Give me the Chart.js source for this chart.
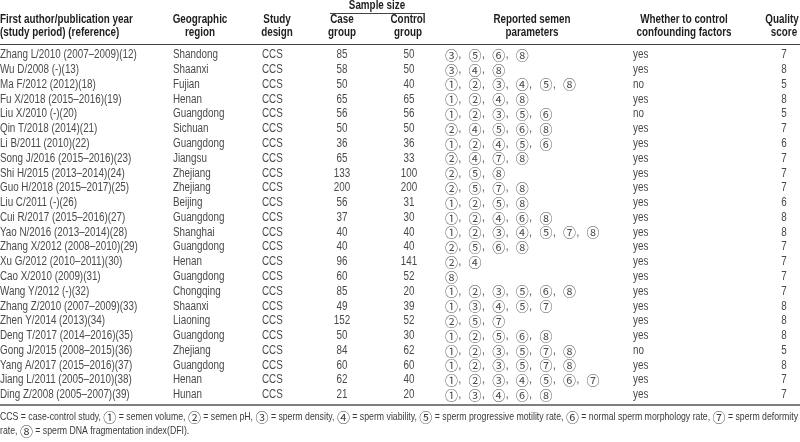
<!DOCTYPE html>
<html>
<head>
<meta charset="utf-8">
<script src="https://cdn.jsdelivr.net/npm/chart.js@4.4.0/dist/chart.umd.min.js"></script>
<style>
  html, body { margin: 0; padding: 0; background: #fff; }
  #wrap { width: 800px; height: 442px; }
</style>
</head>
<body>
<div id="wrap"><canvas id="chart" width="800" height="442"></canvas></div>
<script>
// Table data
const authors = [
    'Zhang L/2010 (2007–2009)(12)', 'Wu D/2008 (-)(13)', 'Ma F/2012 (2012)(18)',
    'Fu X/2018 (2015–2016)(19)', 'Liu X/2010 (-)(20)', 'Qin T/2018 (2014)(21)',
    'Li B/2011 (2010)(22)', 'Song J/2016 (2015–2016)(23)', 'Shi H/2015 (2013–2014)(24)',
    'Guo H/2018 (2015–2017)(25)', 'Liu C/2011 (-)(26)', 'Cui R/2017 (2015–2016)(27)',
    'Yao N/2016 (2013–2014)(28)', 'Zhang X/2012 (2008–2010)(29)', 'Xu G/2012 (2010–2011)(30)',
    'Cao X/2010 (2009)(31)', 'Wang Y/2012 (-)(32)', 'Zhang Z/2010 (2007–2009)(33)',
    'Zhen Y/2014 (2013)(34)', 'Deng T/2017 (2014–2016)(35)', 'Gong J/2015 (2008–2015)(36)',
    'Yang A/2017 (2015–2016)(37)', 'Jiang L/2011 (2005–2010)(38)', 'Ding Z/2008 (2005–2007)(39)'
];
const regions = [
    'Shandong', 'Shaanxi', 'Fujian', 'Henan', 'Guangdong', 'Sichuan', 'Guangdong', 'Jiangsu',
    'Zhejiang', 'Zhejiang', 'Beijing', 'Guangdong', 'Shanghai', 'Guangdong', 'Henan', 'Guangdong',
    'Chongqing', 'Shaanxi', 'Liaoning', 'Guangdong', 'Zhejiang', 'Guangdong', 'Henan', 'Hunan'
];
const designs = authors.map(() => 'CCS');
const caseGroup = [85, 58, 50, 65, 56, 50, 36, 65, 133, 200, 56, 37, 40, 40, 96, 60, 85, 49, 152, 50, 84, 60, 62, 21];
const controlGroup = [50, 50, 40, 65, 56, 50, 36, 33, 100, 200, 31, 30, 40, 40, 141, 52, 20, 39, 52, 30, 62, 60, 40, 20];
const parameters = [
    [3, 5, 6, 8], [3, 4, 8], [1, 2, 3, 4, 5, 8], [1, 2, 4, 8], [1, 2, 3, 5, 6], [2, 4, 5, 6, 8],
    [1, 2, 4, 5, 6], [2, 4, 7, 8], [2, 5, 8], [2, 5, 7, 8], [1, 2, 5, 8], [1, 2, 4, 6, 8],
    [1, 2, 3, 4, 5, 7, 8], [2, 5, 6, 8], [2, 4], [8], [1, 2, 3, 5, 6, 8], [1, 3, 4, 5, 7],
    [2, 5, 7], [1, 2, 5, 6, 8], [1, 2, 3, 5, 7, 8], [1, 2, 3, 5, 7, 8], [1, 2, 3, 4, 5, 6, 7], [1, 3, 4, 6, 8]
];
const confounding = [
    'yes', 'yes', 'no', 'yes', 'no', 'yes', 'yes', 'yes', 'yes', 'yes', 'yes', 'yes',
    'yes', 'yes', 'yes', 'yes', 'yes', 'yes', 'yes', 'yes', 'no', 'yes', 'yes', 'yes'
];
const qualityScore = [7, 8, 5, 8, 5, 7, 6, 7, 7, 7, 6, 8, 8, 7, 7, 7, 7, 8, 8, 8, 5, 8, 7, 7];

const footnoteLine1 = ['CCS = case-control study, ', 1, ' = semen volume, ', 2, ' = semen pH, ', 3,
    ' = sperm density, ', 4, ' = sperm viability, ', 5, ' = sperm progressive motility rate, ', 6,
    ' = normal sperm morphology rate, ', 7, ' = sperm deformity'];
const footnoteLine2 = ['rate, ', 8, ' = sperm DNA fragmentation index(DFI).'];

// Layout
const ROW_TOP = 55;
const ROW_STEP = 14.78;
const NARROW = 0.82; // horizontal squeeze to mimic a condensed face
const BODY_FONT = '12px "Liberation Sans", Arial, sans-serif';
const HEAD_FONT = 'bold 12px "Liberation Sans", Arial, sans-serif';
const FOOT_FONT = '11.5px "Liberation Sans", Arial, sans-serif';
const CIRCLE_FONT = '13px "Noto Sans CJK SC", "DejaVu Sans", sans-serif';
const BODY_COLOR = '#4a4a4a';
const HEAD_COLOR = '#1e1e1e';
const CIRCLED = ['', '①', '②', '③', '④', '⑤', '⑥', '⑦', '⑧'];

const columns = {
    author: { x: 0, align: 'left' },
    region: { x: 173, align: 'left' },
    design: { x: 262, align: 'left' },
    caseN: { x: 342, align: 'center' },
    controlN: { x: 409, align: 'center' },
    params: { x: 445, align: 'left' },
    confound: { x: 633, align: 'left' },
    quality: { x: 784, align: 'center' }
};

// Draw text squeezed horizontally
function narrowText(ctx, text, x, y, align, font, sx) {
    ctx.save();
    ctx.font = font;
    ctx.textAlign = align;
    ctx.translate(x, y);
    ctx.scale(sx, 1);
    ctx.fillText(String(text), 0, 0);
    ctx.restore();
}

function drawCircledList(ctx, items, x, y) {
    const step = 23.6;
    items.forEach((n, k) => {
        ctx.font = CIRCLE_FONT;
        ctx.textAlign = 'left';
        ctx.fillText(CIRCLED[n], x + k * step, y);
        if (k < items.length - 1) {
            narrowText(ctx, ',', x + k * step + 13.5, y, 'left', BODY_FONT, NARROW);
        }
    });
}

function footWidth(ctx, parts, sx) {
    let w = 0;
    parts.forEach(p => {
        if (typeof p === 'number') {
            ctx.font = CIRCLE_FONT;
            w += ctx.measureText(CIRCLED[p]).width;
        } else {
            ctx.font = FOOT_FONT;
            w += ctx.measureText(p).width * sx;
        }
    });
    return w;
}

function drawFootnote(ctx, parts, x, y, sx) {
    let cx = x;
    parts.forEach(p => {
        if (typeof p === 'number') {
            ctx.font = CIRCLE_FONT;
            ctx.textAlign = 'left';
            ctx.fillText(CIRCLED[p], cx, y);
            cx += ctx.measureText(CIRCLED[p]).width;
        } else {
            narrowText(ctx, p, cx, y, 'left', FOOT_FONT, sx);
            ctx.font = FOOT_FONT;
            cx += ctx.measureText(p).width * sx;
        }
    });
}

const tablePlugin = {
    id: 'tablePlugin',
    afterDraw(chart) {
        const ctx = chart.ctx;
        const xs = chart.scales.x;
        const ys = chart.scales.y;
        ctx.save();
        ctx.textBaseline = 'middle';

        // Header
        ctx.fillStyle = HEAD_COLOR;
        const head = (t, x, y, align) => narrowText(ctx, t, xs.getPixelForValue(x), y, align, HEAD_FONT, NARROW);
        head('Sample size', 377, 6, 'center');
        head('First author/publication year', 0, 20, 'left');
        head('(study period) (reference)', 0, 33, 'left');
        head('Geographic', 200, 20, 'center');
        head('region', 200, 33, 'center');
        head('Study', 277, 20, 'center');
        head('design', 277, 33, 'center');
        head('Case', 342, 20, 'center');
        head('group', 342, 33, 'center');
        head('Control', 408, 20, 'center');
        head('group', 408, 33, 'center');
        head('Reported semen', 532, 20, 'center');
        head('parameters', 532, 33, 'center');
        head('Whether to control', 684, 20, 'center');
        head('confounding factors', 684, 33, 'center');
        head('Quality', 782, 20, 'center');
        head('score', 784, 33, 'center');

        // Rules
        ctx.strokeStyle = '#444';
        ctx.lineWidth = 1;
        ctx.beginPath();
        ctx.moveTo(xs.getPixelForValue(330), 13.5);
        ctx.lineTo(xs.getPixelForValue(425), 13.5);
        ctx.moveTo(0, 44.5);
        ctx.lineTo(800, 44.5);
        ctx.stroke();
        ctx.lineWidth = 1.5;
        ctx.strokeStyle = '#555';
        ctx.beginPath();
        ctx.moveTo(0, 405);
        ctx.lineTo(800, 405);
        ctx.stroke();

        // Body rows
        ctx.fillStyle = BODY_COLOR;
        authors.forEach((a, i) => {
            const y = ys.getPixelForValue(i);
            const cell = (text, col) =>
                narrowText(ctx, text, xs.getPixelForValue(columns[col].x), y, columns[col].align, BODY_FONT, NARROW);
            cell(a, 'author');
            cell(regions[i], 'region');
            cell(designs[i], 'design');
            cell(caseGroup[i], 'caseN');
            cell(controlGroup[i], 'controlN');
            drawCircledList(ctx, parameters[i], xs.getPixelForValue(columns.params.x), y);
            cell(confounding[i], 'confound');
            cell(qualityScore[i], 'quality');
        });

        // Footnote
        ctx.fillStyle = '#3a3a3a';
        const circlesOnly = footWidth(ctx, footnoteLine1.filter(p => typeof p === 'number'), 1);
        const textOnly = footWidth(ctx, footnoteLine1.filter(p => typeof p !== 'number'), 1);
        const footScale = (798 - circlesOnly) / textOnly;
        drawFootnote(ctx, footnoteLine1, 0, 417, footScale);
        drawFootnote(ctx, footnoteLine2, 0, 431, footScale);
        ctx.restore();
    }
};

const chart = new Chart(document.getElementById('chart').getContext('2d'), {
    type: 'scatter',
    data: { datasets: [{ data: [], pointRadius: 0 }] },
    options: {
        responsive: false,
        animation: false,
        devicePixelRatio: 1,
        layout: { padding: 0 },
        plugins: { legend: { display: false }, tooltip: { enabled: false } },
        scales: {
            x: { type: 'linear', min: 0, max: 800, display: false },
            y: {
                type: 'linear',
                reverse: true,
                min: -ROW_TOP / ROW_STEP,
                max: (442 - ROW_TOP) / ROW_STEP,
                display: false
            }
        }
    },
    plugins: [tablePlugin]
});
</script>
</body>
</html>
